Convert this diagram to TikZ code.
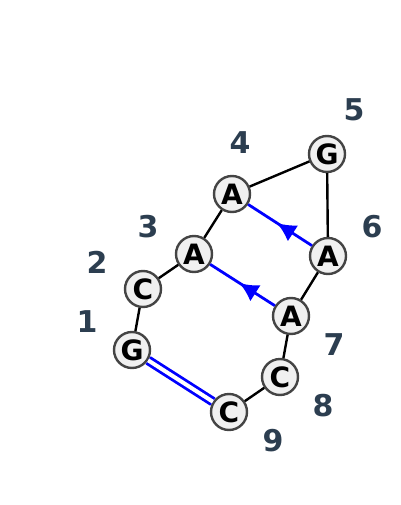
\documentclass[tikz,border=0pt]{standalone}
\usepackage{fontspec}
\setmainfont{DejaVu Sans}
\usetikzlibrary{arrows.meta,decorations.markings}

\definecolor{labelgray}{RGB}{44,62,80}
\definecolor{nodefill}{RGB}{240,240,240}
\definecolor{nodeline}{RGB}{68,68,68}

\begin{document}
\begin{tikzpicture}[x=1pt, y=-1pt,
    base/.style = {draw=nodeline, fill=nodefill, circle, line width=2.4pt, minimum size=36pt, inner sep=0pt, font=\fontsize{28}{28}\selectfont\bfseries},
    num/.style = {text=labelgray, font=\fontsize{30}{30}\selectfont\bfseries},
    bond/.style = {black, line width=2.4pt},
    pair/.style = {blue, line width=2.8pt, postaction={decorate}, decoration={markings, mark=at position 0.55 with {\arrow{Latex[length=19pt,width=19pt]}}}},
    stack/.style = {blue, double=white, line width=2.8pt, double distance=4pt}]
        \useasboundingbox (0,0) rectangle (400,505);

        \node[base] (G1) at (132,350) {G};
        \node[base] (C2) at (143,289) {C};
        \node[base] (A3) at (194,254) {A};
        \node[base] (A4) at (232,194) {A};
        \node[base] (G5) at (327,154) {G};
        \node[base] (A6) at (328,256) {A};
        \node[base] (A7) at (291,316) {A};
        \node[base] (C8) at (280,377) {C};
        \node[base] (C9) at (229,412) {C};

        \node[num] (n1) at (87,322) {1};
        \node[num] (n2) at (97,262) {2};
        \node[num] (n3) at (148,227) {3};
        \node[num] (n4) at (240,143) {4};
        \node[num] (n5) at (354,110) {5};
        \node[num] (n6) at (372,227) {6};
        \node[num] (n7) at (334,345) {7};
        \node[num] (n8) at (323,406) {8};
        \node[num] (n9) at (273,441) {9};

        \draw[bond] (G1) -- (C2) -- (A3) -- (A4) -- (G5) -- (A6) -- (A7) -- (C8) -- (C9); % backbone
        \draw[stack] (G1) -- (C9);
        \draw[pair] (A6) -- (A4);
        \draw[pair] (A7) -- (A3);
\end{tikzpicture}
\end{document}
